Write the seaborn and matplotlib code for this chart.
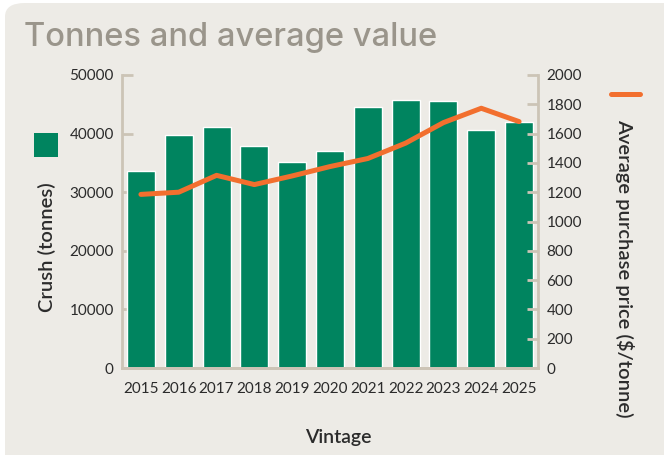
import matplotlib
matplotlib.use("Agg")
import matplotlib.pyplot as plt
import seaborn as sns
import numpy as np
import pandas as pd
from matplotlib.patches import FancyBboxPatch, Rectangle
from matplotlib.lines import Line2D

years = ["2015", "2016", "2017", "2018", "2019", "2020",
         "2021", "2022", "2023", "2024", "2025"]
crush_tonnes = [33700, 39800, 41100, 37900, 35200, 37000,
                44600, 45700, 45600, 40600, 42000]
avg_price = [1185, 1200, 1315, 1252, 1311, 1375,
             1430, 1535, 1675, 1773, 1682]

GREEN = "#00845F"
ORANGE = "#F26F2E"
SPINE = "#CCC4B6"
BG = "#EDEBE6"
TXT = "#2B2B2B"

sns.set_style("white")
plt.rcParams["font.family"] = ["Lato", "DejaVu Sans"]

df = pd.DataFrame({"year": years, "crush": crush_tonnes, "price": avg_price})
df["pos"] = np.arange(len(df))

fig = plt.figure(figsize=(6.64, 4.55), dpi=100, facecolor="white")
fig.patches.append(FancyBboxPatch((5 / 664, -0.1), 1.2, (455 - 3) / 455 + 0.1,
                                  boxstyle="round,pad=0,rounding_size=0.03",
                                  transform=fig.transFigure, facecolor=BG,
                                  edgecolor="none", zorder=-10))

ax = fig.add_axes([122 / 664, 1 - 368 / 455, (538 - 122) / 664, (368 - 75) / 455])
ax.set_facecolor("none")
sns.barplot(data=df, x="year", y="crush", color=GREEN, width=0.74,
            saturation=1, ax=ax, zorder=2)
ax.set_xlim(-0.5, len(years) - 0.5)
ax.set_ylim(0, 50000)
ax.set_yticks(range(0, 50001, 10000))

ax2 = ax.twinx()
sns.lineplot(data=df, x="pos", y="price", color=ORANGE, linewidth=3.6,
             ax=ax2, solid_capstyle="round")
ax2.set_ylim(0, 2000)
ax2.set_yticks(range(0, 2001, 200))

for a in (ax, ax2):
    a.set_xlabel("")
    a.set_ylabel("")
    for s in a.spines.values():
        s.set_color(SPINE)
        s.set_linewidth(2)
    a.spines["top"].set_visible(False)
ax.spines["right"].set_visible(False)
ax2.spines["left"].set_visible(False)

ax.tick_params(axis="y", direction="in", length=8, width=2, color=SPINE,
               labelsize=11, labelcolor=TXT, pad=6)
ax2.tick_params(axis="y", direction="in", length=8, width=2, color=SPINE,
                labelsize=11, labelcolor=TXT, pad=6)
ax.tick_params(axis="x", which="major", length=0, labelsize=11,
               labelcolor=TXT, pad=10)
ax.set_xticks(np.arange(0.5, len(years) - 1, 1), minor=True)
ax.tick_params(axis="x", which="minor", direction="in", length=4, width=2,
               color=SPINE)
ax2.set_xlim(-0.5, len(years) - 0.5)
ax2.tick_params(axis="x", length=0)

fig.text(24 / 664, 1 - 46 / 455, "Tonnes and average value", fontsize=23.5,
         color="#9A958B", va="baseline", ha="left", family=["Inter", "DejaVu Sans"],
         fontweight="medium")
fig.text(47 / 664, 1 - 247 / 455, "Crush (tonnes)", rotation=90, fontsize=14.5,
         color=TXT, ha="center", va="center", fontweight="semibold")
fig.text(625 / 664, 1 - 268 / 455, "Average purchase price ($/tonne)",
         rotation=-90, fontsize=14.5, color=TXT, ha="center", va="center",
         fontweight="semibold")
fig.text(338 / 664, 1 - 437 / 455, "Vintage", fontsize=14, color=TXT,
         ha="center", va="center", fontweight="semibold")

# legend keys
fig.patches.append(Rectangle((34 / 664, 1 - 157 / 455), 24 / 664, 24 / 455,
                             transform=fig.transFigure, facecolor=GREEN,
                             edgecolor="none"))
fig.lines.append(Line2D([611 / 664, 640 / 664], [1 - 94 / 455, 1 - 94 / 455],
                        transform=fig.transFigure, color=ORANGE, linewidth=3.6,
                        solid_capstyle="round"))

fig.savefig("out.png", dpi=100, facecolor="white")
